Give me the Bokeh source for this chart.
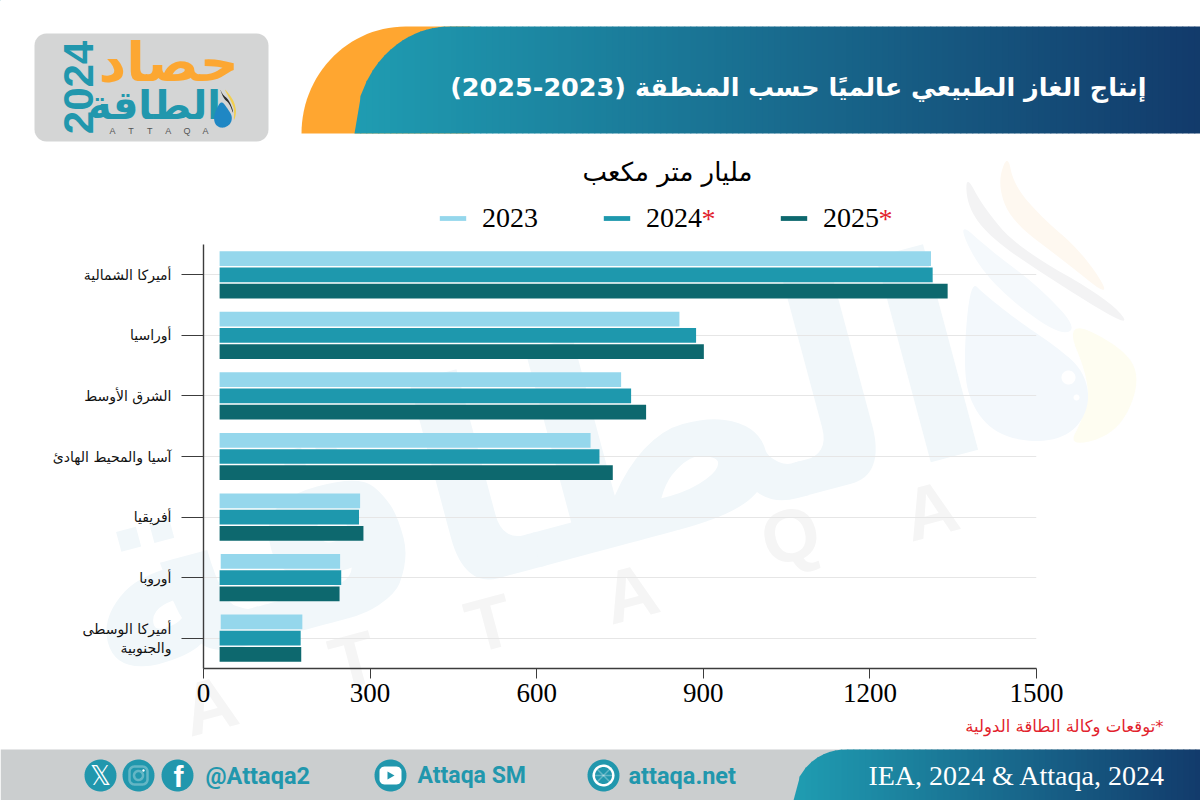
from bokeh.plotting import figure
from bokeh.embed import file_html
from bokeh.resources import INLINE
from bokeh.models import (ColumnDataSource, FactorRange, Range1d, Label, PolyAnnotation,
                          Legend, LegendItem, FixedTicker)
from bokeh.transform import dodge
from bokeh.core.properties import value
import numpy as np

categories = ["أميركا الشمالية", "أوراسيا", "الشرق الأوسط", "آسيا والمحيط الهادئ",
              "أفريقيا", "أوروبا", "أميركا الوسطى\nوالجنوبية"]
v2023 = [1310, 857, 752, 697, 282, 246, 178]
v2024 = [1313, 887, 770, 713, 280, 248, 175]
v2025 = [1340, 901, 797, 737, 288, 245, 176]
start2023 = [29, 29, 29, 29, 29, 31, 31]
start2024 = [29, 29, 29, 29, 29, 29, 29]
start2025 = [29, 29, 29, 29, 29, 29, 29]
x_ticks = [0, 300, 600, 900, 1200, 1500]
title_text = "إنتاج الغاز الطبيعي عالميًا حسب المنطقة (2023-2025)"
unit_text = "مليار متر مكعب"
note_text = "*توقعات وكالة الطاقة الدولية"
source_text = "IEA, 2024 & Attaqa, 2024"
C23, C24, C25 = "#95d7ec", "#1e98ad", "#0d686e"
RLE, PDF = "\u202b", "\u202c"
SERIF, SANS, AR = "Liberation Serif", "Liberation Sans", "DejaVu Sans"

# backdrop: a full-page figure for the banner, legend, notes and watermark
b = figure(width=1200, height=800, output_backend="svg", toolbar_location=None,
           x_range=Range1d(0, 1200), y_range=Range1d(800, 0),
           x_axis_location=None, y_axis_location=None, min_border=0,
           outline_line_color=None, background_fill_color="white", border_fill_color="white")
b.grid.visible = False

# chart: laid over the backdrop
p = figure(width=1200, height=800, output_backend="svg", toolbar_location=None,
           x_range=Range1d(0, 1500), y_range=FactorRange(factors=categories[::-1]),
           min_border_left=203, min_border_right=164, min_border_top=244, min_border_bottom=132,
           outline_line_color=None, background_fill_alpha=0, border_fill_alpha=0,
           margin=(-800, 0, 0, 0))


def poly(xs, ys, color, line=None, lw=1):
    b.add_layout(PolyAnnotation(xs=list(map(float, xs)), ys=list(map(float, ys)),
                                fill_color=color, fill_alpha=1.0, line_color=line,
                                line_width=lw, editable=False))


def txt(x, y, s, size, color="black", font=AR, style="normal", align="center", base="middle", angle=0):
    b.add_layout(Label(x=x, y=y, text=s, text_font=font, text_font_size=f"{size}px",
                       text_color=color, text_font_style=style, text_align=align,
                       text_baseline=base, angle=angle, angle_units="deg"))


def ell(cx, cy, rx, ry=None, a0=0, a1=360, n=48):
    ry = rx if ry is None else ry
    t = np.radians(np.linspace(a0, a1, n))
    return cx + rx * np.cos(t), cy - ry * np.sin(t)


def rrect(x0, y0, x1, y1, r):
    xs, ys = [], []
    for cx, cy, a0 in [(x1 - r, y0 + r, 0), (x0 + r, y0 + r, 90), (x0 + r, y1 - r, 180), (x1 - r, y1 - r, 270)]:
        ax, ay = ell(cx, cy, r, None, a0, a0 + 90, 8)
        xs += list(ax)
        ys += list(ay)
    return xs, ys


def smooth(points, rounds=3):
    pts = np.array(points, dtype=float)
    for _ in range(rounds):
        nxt = np.roll(pts, -1, axis=0)
        pts = np.column_stack([0.75 * pts + 0.25 * nxt, 0.25 * pts + 0.75 * nxt]).reshape(-1, 2)
    return pts[:, 0], pts[:, 1]


def blob(points, color):
    sx, sy = smooth(points)
    poly(sx, sy, color)


def mix(a, c, t):
    ca = [int(a[i:i + 2], 16) for i in (1, 3, 5)]
    cb = [int(c[i:i + 2], 16) for i in (1, 3, 5)]
    return "#%02x%02x%02x" % tuple(round(u + (w - u) * t) for u, w in zip(ca, cb))


def gradient_band(x0, x1, top, bottom, curve_cx, rx, c0, c1):
    step = 6
    ry = bottom - top

    def yy(v):
        if v >= curve_cx:
            return top
        d = (curve_cx - v) / rx
        return bottom - ry * np.sqrt(max(0, 1 - d * d))

    for x in np.arange(x0, x1, step):
        xa, xb = x, min(x + step + 0.7, x1)
        poly([xa, xb, xb, xa], [yy(xa), yy(xb), bottom, bottom],
             mix(c0, c1, (x - x0) / (x1 - x0)))


# ---- watermark
wm_blue, wm_gray = "#f1f7fa", "#f5f5f5"
txt(525, 470, "الطاقة", 280, wm_blue, AR, "bold", angle=15)
for lx, ly, ch in [(209, 705, "A"), (353, 660, "T"), (489, 623, "T"), (630, 593, "A"),
                   (790, 535, "Q"), (930, 510, "A")]:
    txt(lx, ly, ch, 74, wm_gray, SANS, "bold", angle=15)
blob([(1007, 153), (997, 183), (1010, 220), (1063, 260), (1113, 300),
      (1083, 253), (1037, 213), (1013, 183)], "#fef8f0")
blob([(957, 220), (975, 262), (1010, 300), (1060, 335), (1077, 327), (1037, 285), (990, 250)], "#f5f9fc")
blob([(965, 173), (967, 207), (990, 237), (1037, 270), (1133, 330),
      (1110, 300), (1017, 247), (983, 207)], "#f3f3f4")
blob([(1067, 447), (1117, 433), (1140, 383), (1127, 350), (1063, 317),
      (1090, 383), (1083, 417)], "#fefdf1")
blob([(970, 280), (963, 357), (968, 400), (993, 433), (1037, 443), (1073, 433), (1090, 403),
      (1083, 370), (1057, 347), (1017, 320), (983, 293)], "#f3f8fc")
for hx, hy, hr in [(1068, 377, 7), (1076, 397, 3)]:
    xc, yc = ell(hx, hy, hr)
    poly(xc, yc, "#ffffff")

# ---- header
ox, oy = ell(405, 133, 104, 107, 90, 180, 30)
poly(list(ox) + [470, 470], list(oy) + [133, 26], "#ffa630")
gradient_band(354, 1200, 26, 133, 449, 95, "#1f9cb1", "#123a6b")
txt(1146, 86, RLE + title_text + PDF, 25.5, "white", AR, "bold", align="right")

# ---- logo
rx, ry = rrect(34, 33, 268, 141, 12)
poly(rx, ry, "#d4d5d5")
txt(168, 62, "حصاد", 54, "#fca732", AR, "bold")
txt(154, 104, "الطاقة", 40, "#2197ad", AR, "bold")
txt(78, 87, "2024", 42, "#2197ad", SANS, "bold", angle=90)
for i, ch in enumerate("ATTAQA"):
    txt(112 + i * 18.6, 130, ch, 9, "#555555", SANS)
blob([(221, 100), (216, 108), (213, 117), (215, 125), (222, 128), (230, 124), (232, 116), (227, 108)], "#1f87c4")
blob([(219, 87), (222, 94), (228, 99), (232, 108), (233, 114), (229, 103), (223, 98)], "#2b2b2b")
blob([(223, 87), (229, 94), (234, 102), (236, 112), (233, 122), (234, 108), (229, 98)], "#f2cf4f")

# ---- unit line
txt(667, 171, unit_text, 26, "black", AR)

# ---- footer
poly([0, 1200, 1200, 0], [749, 749, 800, 800], "#cbcecf")
gradient_band(793, 1200, 749, 800, 845, 52, "#1f9cb1", "#123a6b")
txt(1165, 775, source_text, 28, "white", SERIF, align="right")
txt(1163, 726, RLE + note_text + PDF, 16.5, "#e21f2d", AR, align="right")
teal = "#2197ad"
for cx, cy in [(100, 775), (138, 775), (177, 775), (390, 775), (603, 775)]:
    xc, yc = ell(cx, cy, 16)
    poly(xc, yc, teal)
txt(100, 775, "𝕏", 26, "white", AR)
rx, ry = rrect(129, 766, 147, 784, 5)
poly(rx, ry, None, line="white", lw=2.5)
xc, yc = ell(138, 775, 4.5)
poly(xc, yc, None, line="white", lw=2.5)
xc, yc = ell(143, 770, 1.2)
poly(xc, yc, "white")
txt(178, 776, "f", 30, "white", SANS, "bold")
rx, ry = rrect(379, 766, 401, 784, 5)
poly(rx, ry, "white")
poly([387, 394, 387], [771, 775, 779], teal)
xc, yc = ell(603, 775, 11)
poly(xc, yc, "white")
xc, yc = ell(603, 775, 8.5)
poly(xc, yc, teal)
poly([592, 614], [775, 775], None, line="white", lw=1.5)
poly([596, 610], [768, 782], None, line="white", lw=1.5)
poly([610, 596], [768, 782], None, line="white", lw=1.5)
txt(205, 775, "@Attaqa2", 23.5, teal, "Roboto", "bold", align="left")
txt(417, 775, "Attaqa SM", 23, teal, "Roboto", "bold", align="left")
txt(628, 775, "attaqa.net", 23.5, teal, "Roboto", "bold", align="left")

# ---- bars
src = ColumnDataSource(dict(cat=categories, v23=v2023, v24=v2024, v25=v2025,
                            s23=start2023, s24=start2024, s25=start2025))
H = 0.243
OFF = 0.268
p.hbar(y=dodge("cat", OFF, range=p.y_range), left="s23", right="v23", height=H,
       source=src, fill_color=C23, line_color=None)
p.hbar(y=dodge("cat", 0, range=p.y_range), left="s24", right="v24", height=H,
       source=src, fill_color=C24, line_color=None)
p.hbar(y=dodge("cat", -OFF, range=p.y_range), left="s25", right="v25", height=H,
       source=src, fill_color=C25, line_color=None)

# ---- legends (on the backdrop, whose frame is the whole page)
for lab, col, lxp in [("2023", C23, 436), ("2024", C24, 600), ("2025", C25, 777)]:
    rend = b.hbar(y=[-50], left=[-50], right=[-40], height=1, fill_color=col, line_color=None)
    leg = Legend(items=[LegendItem(label=value(lab), renderers=[rend])],
                 location=(lxp, 800 - 234), orientation="horizontal",
                 label_text_font=SERIF, label_text_font_size="28px", label_text_color="black",
                 glyph_width=33, glyph_height=6, label_standoff=13, padding=0, margin=0,
                 border_line_color=None, background_fill_alpha=0)
    b.add_layout(leg)
txt(708, 218, "*", 28, "#e21f2d", SERIF)
txt(885, 218, "*", 28, "#e21f2d", SERIF)

# ---- axes
xa = p.xaxis[0]
xa.ticker = FixedTicker(ticks=x_ticks)
xa.major_tick_out, xa.major_tick_in, xa.minor_tick_out, xa.minor_tick_in = 10, 0, 0, 0
xa.axis_line_color = xa.major_tick_line_color = "#3c3c3c"
xa.axis_line_width = 1.4
xa.major_label_text_font = SERIF
xa.major_label_text_font_size = "27px"
xa.major_label_text_color = "black"
xa.major_label_standoff = 5
ya = p.yaxis[0]
ya.major_tick_out, ya.major_tick_in = 22, 0
ya.axis_line_color = ya.major_tick_line_color = "#3c3c3c"
ya.axis_line_width = 1.4
ya.major_label_text_font = AR
ya.major_label_text_font_size = "14px"
ya.major_label_text_color = "#111111"
ya.major_label_standoff = 10
p.xgrid.visible = False
p.ygrid.grid_line_color = "#e6e6e6"
p.ygrid.grid_line_width = 1

open("out.html", "w").write(file_html([b, p], INLINE))
